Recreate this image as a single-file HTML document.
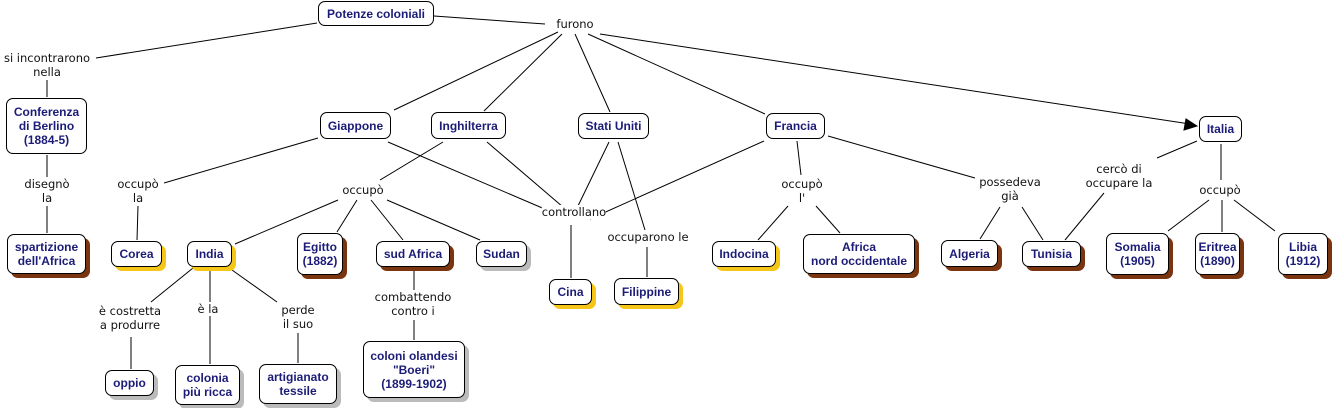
<!DOCTYPE html>
<html><head><meta charset="utf-8"><style>
body{margin:0;width:1334px;height:408px;background:#fff;position:relative;overflow:hidden;font-family:"Liberation Sans",sans-serif}
.n{position:absolute;box-sizing:border-box;border:1px solid #000;border-radius:7px;background:#fff;color:#1c1c78;font-weight:bold;font-size:12px;line-height:14px;display:flex;align-items:center;justify-content:center;text-align:center}
.y{box-shadow:4px 4px 0 #f5c518}.b{box-shadow:4px 4px 0 #7a3510}.g{box-shadow:4px 4px 0 #bbb}
.l{position:absolute;font-family:"DejaVu Sans",sans-serif;font-size:11.5px;line-height:14px;color:#111;text-align:center;transform:translateX(-50%);white-space:nowrap;background:#fff}
svg{position:absolute;left:0;top:0}
</style></head><body>
<svg width="1334" height="408" stroke="#000" stroke-width="1" fill="none">
<path d="M317 23L96 58M47 80V97M434 16L545 24M558 32L394 110M562 34L484 111M575 34L610 112M588 34L765 114M600 34L1190 124M47 155V177M47 206V233M318 138L164 183M138 206L137 240M388 142L547 210M443 142L380 180M487 142L563 207M609 142L577 208M618 142L645 230M764 141L590 219M338 200L235 244M357 200L337 232M371 200L403 240M387 200L480 240M571 225V278M647 247V277M797 141L801 175M788 206L758 240M816 206L840 233M828 136L975 178M1000 207L980 239M1022 207L1043 240M1197 141L1157 158M1104 193L1065 240M1221 144V180M1209 200L1168 231M1222 200V232M1234 200L1275 231M193 268L151 302M210 268V364M232 270L277 302M131 337V369M298 333V363M414 268V290M414 320V340"/>
<path d="M1197 126L1186 119L1184 130Z" fill="#000"/>
</svg>
<div class="l" style="left:575px;top:17px">furono</div>
<div class="l" style="left:47px;top:51px">si incontrarono<br>nella</div>
<div class="l" style="left:47px;top:177px">disegnò<br>la</div>
<div class="l" style="left:138px;top:177px">occupò<br>la</div>
<div class="l" style="left:363px;top:183px">occupò</div>
<div class="l" style="left:574px;top:205px">controllano</div>
<div class="l" style="left:648px;top:230px">occuparono le</div>
<div class="l" style="left:802px;top:177px">occupò<br>l'</div>
<div class="l" style="left:1010px;top:175px">possedeva<br>già</div>
<div class="l" style="left:1119px;top:162px">cercò di<br>occupare la</div>
<div class="l" style="left:1220px;top:183px">occupò</div>
<div class="l" style="left:130px;top:304px">è costretta<br>a produrre</div>
<div class="l" style="left:208px;top:302px">è la</div>
<div class="l" style="left:298px;top:303px">perde<br>il suo</div>
<div class="l" style="left:413px;top:290px">combattendo<br>contro i</div>
<div class="n" style="left:318px;top:1px;width:116px;height:25px">Potenze coloniali</div>
<div class="n" style="left:6px;top:98px;width:81px;height:56px">Conferenza<br>di Berlino<br>(1884-5)</div>
<div class="n b" style="left:7px;top:234px;width:79px;height:40px">spartizione<br>dell'Africa</div>
<div class="n y" style="left:111px;top:241px;width:51px;height:26px">Corea</div>
<div class="n y" style="left:187px;top:241px;width:45px;height:26px">India</div>
<div class="n b" style="left:297px;top:233px;width:46px;height:42px">Egitto<br>(1882)</div>
<div class="n b" style="left:376px;top:241px;width:74px;height:26px">sud Africa</div>
<div class="n g" style="left:476px;top:241px;width:51px;height:26px">Sudan</div>
<div class="n" style="left:320px;top:112px;width:71px;height:27px">Giappone</div>
<div class="n" style="left:431px;top:112px;width:75px;height:27px">Inghilterra</div>
<div class="n" style="left:578px;top:113px;width:71px;height:26px">Stati Uniti</div>
<div class="n" style="left:766px;top:113px;width:59px;height:26px">Francia</div>
<div class="n" style="left:1199px;top:116px;width:43px;height:26px">Italia</div>
<div class="n y" style="left:549px;top:279px;width:43px;height:26px">Cina</div>
<div class="n y" style="left:614px;top:278px;width:65px;height:27px">Filippine</div>
<div class="n y" style="left:712px;top:241px;width:64px;height:26px">Indocina</div>
<div class="n b" style="left:803px;top:234px;width:112px;height:40px">Africa<br>nord occidentale</div>
<div class="n b" style="left:941px;top:240px;width:57px;height:27px">Algeria</div>
<div class="n b" style="left:1022px;top:241px;width:59px;height:26px">Tunisia</div>
<div class="n b" style="left:1106px;top:233px;width:63px;height:42px">Somalia<br>(1905)</div>
<div class="n b" style="left:1195px;top:233px;width:45px;height:42px">Eritrea<br>(1890)</div>
<div class="n b" style="left:1278px;top:233px;width:50px;height:42px">Libia<br>(1912)</div>
<div class="n g" style="left:105px;top:370px;width:49px;height:26px">oppio</div>
<div class="n g" style="left:175px;top:365px;width:65px;height:40px">colonia<br>più ricca</div>
<div class="n g" style="left:259px;top:364px;width:78px;height:40px">artigianato<br>tessile</div>
<div class="n g" style="left:363px;top:341px;width:102px;height:57px">coloni olandesi<br>"Boeri"<br>(1899-1902)</div>
</body></html>
